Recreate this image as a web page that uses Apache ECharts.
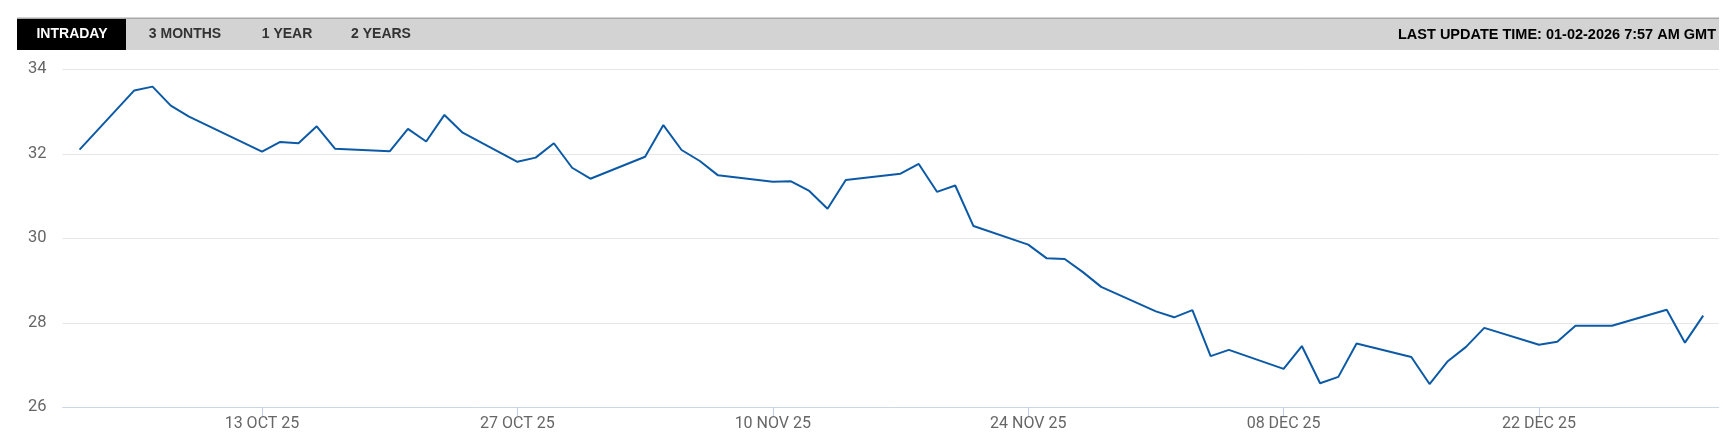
<!DOCTYPE html>
<html>
<head>
<meta charset="utf-8">
<style>
  html, body { margin: 0; padding: 0; background: #fff; }
  #chart { width: 1723px; height: 440px; }
</style>
<script src="https://cdn.jsdelivr.net/npm/echarts@6/dist/echarts.min.js"></script>
</head>
<body>
<div id="chart"></div>
<script>
// ---- data ----
var dates = ['2025-10-03','2025-10-06','2025-10-07','2025-10-08','2025-10-09','2025-10-13','2025-10-14','2025-10-15','2025-10-16','2025-10-17',
  '2025-10-20','2025-10-21','2025-10-22','2025-10-23','2025-10-24','2025-10-27','2025-10-28','2025-10-29','2025-10-30','2025-10-31',
  '2025-11-03','2025-11-04','2025-11-05','2025-11-06','2025-11-07','2025-11-10','2025-11-11','2025-11-12','2025-11-13','2025-11-14',
  '2025-11-17','2025-11-18','2025-11-19','2025-11-20','2025-11-21','2025-11-24','2025-11-25','2025-11-26','2025-11-27','2025-11-28',
  '2025-12-01','2025-12-02','2025-12-03','2025-12-04','2025-12-05','2025-12-08','2025-12-09','2025-12-10','2025-12-11','2025-12-12',
  '2025-12-15','2025-12-16','2025-12-17','2025-12-18','2025-12-19','2025-12-22','2025-12-23','2025-12-24','2025-12-26','2025-12-29',
  '2025-12-30','2025-12-31'];
var values = [32.10,33.50,33.59,33.14,32.88,32.05,32.28,32.25,32.65,32.12,
  32.06,32.59,32.29,32.92,32.50,31.81,31.91,32.25,31.67,31.41,
  31.93,32.68,32.09,31.83,31.49,31.34,31.35,31.12,30.70,31.38,
  31.53,31.76,31.10,31.25,30.29,29.85,29.53,29.51,29.20,28.85,
  28.27,28.13,28.30,27.21,27.36,26.91,27.45,26.57,26.72,27.51,
  27.19,26.55,27.09,27.43,27.88,27.48,27.55,27.93,27.93,28.31,
  27.53,28.17];
var tickDates = ['2025-10-13','2025-10-27','2025-11-10','2025-11-24','2025-12-08','2025-12-22'];
var tickLabels = ['13 OCT 25','27 OCT 25','10 NOV 25','24 NOV 25','08 DEC 25','22 DEC 25'];
var yTicks = [26, 28, 30, 32, 34];
var tabs = ['INTRADAY', '3 MONTHS', '1 YEAR', '2 YEARS'];
var updateText = 'LAST UPDATE TIME: 01-02-2026 7:57 AM GMT';

// ---- build ----
var DAY = 86400000;
function ts(s) { return new Date(s + 'T00:00:00Z').getTime(); }
var seriesData = dates.map(function (d, i) { return [ts(d), values[i]]; });
var tickTs = tickDates.map(ts);

var chart = echarts.init(document.getElementById('chart'), null, { renderer: 'canvas' });

var tabCenters = [72, 185, 287, 381];
var graphics = [
  { type: 'rect', shape: { x: 17, y: 18, width: 1702, height: 32 }, style: { fill: '#d3d3d3' }, silent: true },
  { type: 'rect', shape: { x: 17, y: 17.5, width: 1702, height: 1.5 }, style: { fill: '#a9a9a9' }, silent: true },
  { type: 'rect', shape: { x: 17, y: 19, width: 109, height: 31 }, style: { fill: '#000000' }, silent: true }
];
tabs.forEach(function (t, i) {
  graphics.push({
    type: 'text', x: tabCenters[i], y: 34.5, silent: true,
    style: { text: t, fill: i === 0 ? '#ffffff' : '#333333', font: 'bold 14px "Liberation Sans", Arial, sans-serif',
      align: 'center', verticalAlign: 'middle' }
  });
});
graphics.push({
  type: 'text', x: 1716, y: 34.5, silent: true,
  style: { text: updateText, fill: '#000000', font: 'bold 14.5px "Liberation Sans", Arial, sans-serif',
    align: 'right', verticalAlign: 'middle' }
});

var option = {
  animation: false,
  backgroundColor: '#ffffff',
  grid: { left: 62.6, right: 4.3, top: 69.3, bottom: 32.7, containLabel: false },
  graphic: graphics,
  xAxis: {
    type: 'value',
    min: tickTs[0] - 10.93 * DAY,
    max: tickTs[tickTs.length - 1] + 9.85 * DAY,
    axisLine: { show: true, onZero: false, lineStyle: { color: '#ccd6eb', width: 1 } },
    axisTick: { show: true, length: 9, lineStyle: { color: '#c0cde6', width: 1 }, customValues: tickTs },
    axisLabel: {
      customValues: tickTs,
      color: '#666666', fontFamily: 'Roboto, sans-serif', fontSize: 16, margin: 9,
      formatter: function (v) {
        var idx = tickTs.indexOf(v);
        return idx >= 0 ? tickLabels[idx] : '';
      }
    },
    splitLine: { show: false }
  },
  yAxis: {
    type: 'value',
    min: yTicks[0], max: yTicks[yTicks.length - 1], interval: 2,
    axisLine: { show: false },
    axisTick: { show: false },
    axisLabel: { color: '#666666', fontFamily: 'Roboto, sans-serif', fontSize: 16.5, margin: 16 },
    splitLine: { show: true, lineStyle: { color: '#e6e6e6', width: 1 } }
  },
  series: [{
    type: 'line',
    data: seriesData,
    showSymbol: false,
    symbol: 'none',
    lineStyle: { color: '#0c5aa6', width: 2 },
    z: 3
  }]
};
chart.setOption(option);
</script>
</body>
</html>
